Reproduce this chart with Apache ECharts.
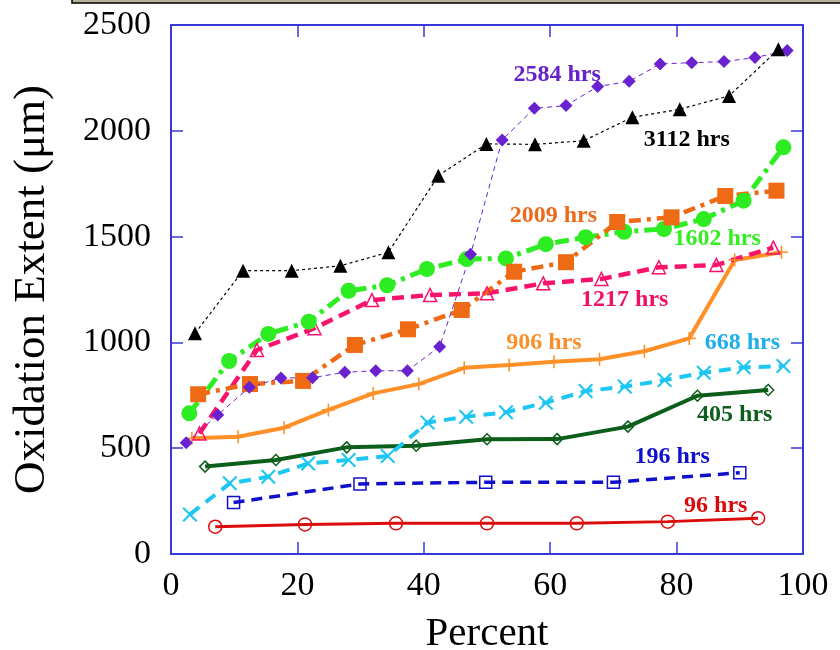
<!DOCTYPE html>
<html lang="en">
<head>
    <meta charset="UTF-8">
    <title>Oxidation Extent</title>
    <script src="https://cdn.jsdelivr.net/npm/echarts@6/dist/echarts.min.js"></script>
    <style>
        html, body { margin: 0; padding: 0; background: #fff; }
    </style>
</head>
<body>
    <div id="main" style="width: 840px;height: 650px;"></div>
    <script>
        // percent (x) and oxidation extent in um (y) for each exposure time
        var x96 = [7.0, 21.2, 35.6, 50.0, 64.2, 78.6, 92.9]
        var y96 = [129, 140, 145, 145, 145, 153, 169]

        var x196 = [9.9, 29.9, 49.8, 70.0, 90.0]
        var y196 = [243, 331, 339, 339, 384]

        var x405 = [5.4, 16.6, 27.8, 38.8, 50.0, 61.1, 72.3, 83.3, 94.5]
        var y405 = [413, 444, 504, 512, 542, 543, 602, 748, 775]

        var x668 = [3.0, 9.3, 15.4, 21.7, 28.1, 34.3, 40.6, 46.7, 53.0, 59.3, 65.6, 71.8, 78.1, 84.3, 90.6, 96.9]
        var y668 = [187, 334, 365, 428, 444, 463, 621, 649, 670, 715, 770, 791, 822, 857, 882, 888]

        var x906 = [3.3, 10.6, 17.9, 24.9, 32.0, 39.2, 46.4, 53.5, 60.6, 67.8, 74.9, 82.0, 89.2, 96.6]
        var y906 = [547, 554, 597, 681, 759, 803, 880, 893, 909, 920, 958, 1019, 1389, 1426]

        var x1217 = [4.5, 13.6, 22.7, 31.8, 41.0, 50.0, 58.9, 68.1, 77.2, 86.3, 95.3]
        var y1217 = [570, 964, 1067, 1200, 1224, 1232, 1279, 1300, 1355, 1366, 1448]

        var x1602 = [2.9, 9.2, 15.4, 21.8, 28.1, 34.2, 40.5, 46.8, 53.0, 59.3, 65.6, 71.7, 78.0, 84.3, 90.6, 96.9]
        var y1602 = [665, 912, 1040, 1098, 1244, 1270, 1347, 1394, 1397, 1464, 1497, 1523, 1536, 1583, 1670, 1922]

        var x2009 = [4.3, 12.5, 20.9, 29.1, 37.5, 46.0, 54.3, 62.5, 70.6, 79.2, 87.7, 95.8]
        var y2009 = [755, 803, 818, 988, 1062, 1153, 1334, 1379, 1569, 1591, 1692, 1717]

        var x2584 = [2.4, 7.4, 12.4, 17.4, 22.4, 27.5, 32.4, 37.4, 42.5, 47.4, 52.4, 57.5, 62.5, 67.5, 72.5, 77.4, 82.4, 87.5, 92.4, 97.5]
        var y2584 = [526, 657, 788, 832, 833, 859, 866, 866, 980, 1416, 1957, 2106, 2119, 2209, 2234, 2316, 2322, 2327, 2346, 2379]

        var x3112 = [3.8, 11.4, 19.1, 26.8, 34.4, 42.3, 49.9, 57.6, 65.3, 73.0, 80.5, 88.3, 96.1]
        var y3112 = [1043, 1339, 1339, 1362, 1426, 1788, 1938, 1936, 1953, 2064, 2102, 2165, 2385]

        var seriesNames = ['96 hrs', '196 hrs', '405 hrs', '668 hrs', '906 hrs', '1217 hrs', '1602 hrs', '2009 hrs', '2584 hrs', '3112 hrs']
        // where each curve's label sits, in data units
        var labelX = [86.2, 79.3, 89.2, 90.4, 59.0, 71.8, 86.4, 60.5, 61.1, 81.6]
        var labelY = [229, 458, 657, 997, 997, 1200, 1490, 1598, 2264, 1957]

        var xTicks = [0, 20, 40, 60, 80, 100]
        var yTicks = [0, 500, 1000, 1500, 2000, 2500]

        var serif = '"Liberation Serif", "Times New Roman", serif'
        var axisBlue = '#3838d8'
        var crossPath = 'path://M0,1L1,0L5,4L9,0L10,1L6,5L10,9L9,10L5,6L1,10L0,9L4,5Z'
        var plusPath = 'path://M4.4,0H5.6V4.4H10V5.6H5.6V10H4.4V5.6H0V4.4H4.4Z'

        function pairs(xs, ys) {
            var out = []
            for (var i = 0; i < xs.length; i++) {
                out.push([xs[i], ys[i]])
            }
            return out
        }

        function makeSeries(name, xs, ys, color, width, dash, symbol, size, open) {
            return {
                name: name,
                type: 'line',
                data: pairs(xs, ys),
                symbol: symbol,
                symbolSize: size,
                showAllSymbol: true,
                animation: false,
                lineStyle: { color: color, width: width, type: dash },
                itemStyle: open
                    ? { color: 'rgba(255,255,255,0)', borderColor: color, borderWidth: 1.5 }
                    : { color: color, borderWidth: 0 },
                emphasis: { disabled: true }
            }
        }

        var colors = ['#dd0c0c', '#1010cc', '#0d5e1a', '#1ec6f2', '#ff9028', '#f8146c', '#2eec22', '#ee6a14', '#6a22d0', '#000000']
        var labelColors = ['#d80c0c', '#1010cc', '#0d5e1a', '#1eaee8', '#f7902a', '#ee1166', '#33ee22', '#ee6a1a', '#6622cc', '#000000']

        var series = [
            makeSeries(seriesNames[0], x96, y96, colors[0], 3, 'solid', 'circle', 13, true),
            makeSeries(seriesNames[1], x196, y196, colors[1], 3.5, [11, 7], 'rect', 12, true),
            makeSeries(seriesNames[2], x405, y405, colors[2], 4, 'solid', 'diamond', 11, true),
            makeSeries(seriesNames[3], x668, y668, colors[3], 4, [12, 8], crossPath, 15, false),
            makeSeries(seriesNames[4], x906, y906, colors[4], 4, 'solid', plusPath, 13, false),
            makeSeries(seriesNames[5], x1217, y1217, colors[5], 4.5, [12, 7], 'triangle', 13, true),
            makeSeries(seriesNames[6], x1602, y1602, colors[6], 5, [14, 6, 4, 6], 'circle', 16, false),
            makeSeries(seriesNames[7], x2009, y2009, colors[7], 4.5, [12, 6, 4, 6], 'rect', 16, false),
            makeSeries(seriesNames[8], x2584, y2584, colors[8], 1, [5, 4], 'diamond', 13, false),
            makeSeries(seriesNames[9], x3112, y3112, colors[9], 1.2, [3, 3], 'triangle', 14, false)
        ]

        var tickStyle = { show: true, inside: true, length: 12, lineStyle: { color: axisBlue, width: 1.5 } }
        var lineStyle = { show: true, onZero: false, lineStyle: { color: axisBlue, width: 2 } }

        var myChart = echarts.init(document.getElementById('main'))
        var option = {
            backgroundColor: '#ffffff',
            animation: false,
            grid: { left: 171, right: 37, top: 25, bottom: 96, containLabel: false, outerBoundsMode: 'none' },
            xAxis: [{
                type: 'value',
                position: 'bottom',
                min: xTicks[0],
                max: xTicks[xTicks.length - 1],
                interval: xTicks[1] - xTicks[0],
                name: 'Percent',
                nameLocation: 'middle',
                nameGap: 60,
                nameTextStyle: { fontFamily: serif, fontSize: 41, color: '#000', verticalAlign: 'top' },
                axisLine: lineStyle,
                axisTick: tickStyle,
                splitLine: { show: false },
                axisLabel: { fontFamily: serif, fontSize: 34, color: '#000', margin: 15 }
            }, {
                type: 'value',
                position: 'top',
                min: xTicks[0],
                max: xTicks[xTicks.length - 1],
                interval: xTicks[1] - xTicks[0],
                axisLine: lineStyle,
                axisTick: tickStyle,
                splitLine: { show: false },
                axisLabel: { show: false }
            }],
            yAxis: [{
                type: 'value',
                position: 'left',
                min: yTicks[0],
                max: yTicks[yTicks.length - 1],
                interval: yTicks[1] - yTicks[0],
                name: 'Oxidation Extent (μm)',
                nameLocation: 'middle',
                nameGap: 116,
                nameTextStyle: { fontFamily: serif, fontSize: 45, color: '#000' },
                axisLine: lineStyle,
                axisTick: tickStyle,
                splitLine: { show: false },
                axisLabel: {
                    fontFamily: serif, fontSize: 34, color: '#000', margin: 20,
                    formatter: function (v) { return String(v) }
                }
            }, {
                type: 'value',
                position: 'right',
                min: yTicks[0],
                max: yTicks[yTicks.length - 1],
                interval: yTicks[1] - yTicks[0],
                axisLine: lineStyle,
                axisTick: tickStyle,
                splitLine: { show: false },
                axisLabel: { show: false }
            }],
            series: series
        }
        myChart.setOption(option)

        // curve labels placed through the axes' own scales
        var graphics = [{
            type: 'rect',
            shape: { x: 72, y: -3, width: 800, height: 6 },
            style: { fill: '#b8b096', stroke: '#000', lineWidth: 1.5 },
            silent: true
        }]
        for (var i = 0; i < seriesNames.length; i++) {
            var p = myChart.convertToPixel({ xAxisIndex: 0, yAxisIndex: 0 }, [labelX[i], labelY[i]])
            graphics.push({
                type: 'text',
                x: p[0],
                y: p[1],
                style: {
                    text: seriesNames[i],
                    fill: labelColors[i],
                    font: 'bold 24px ' + serif,
                    textAlign: 'center',
                    textVerticalAlign: 'middle'
                },
                silent: true
            })
        }
        myChart.setOption({ graphic: graphics })
    </script>
</body>
</html>
